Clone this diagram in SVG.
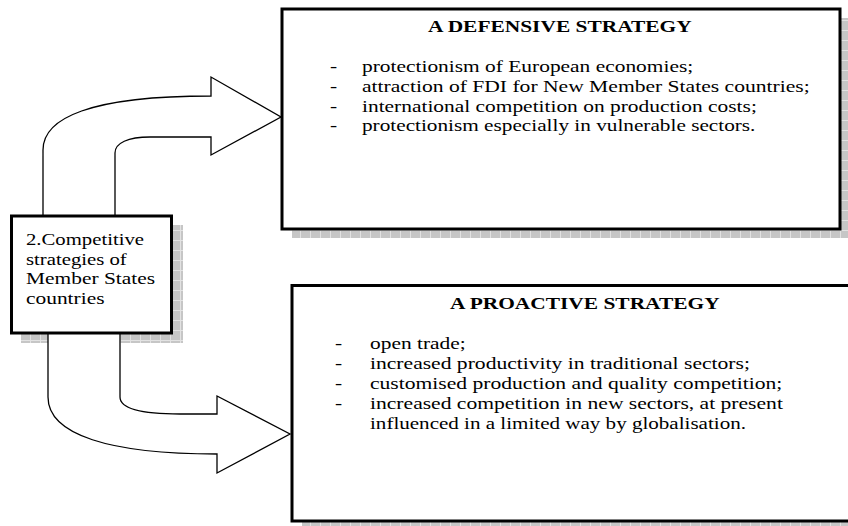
<svg xmlns="http://www.w3.org/2000/svg" width="848" height="526" viewBox="0 0 848 526">
<defs>
<pattern id="grid" width="10" height="10" patternUnits="userSpaceOnUse">
<rect width="10" height="10" fill="#c6c6c6"/>
<path d="M0 0.5H10M0.5 0V10" stroke="#e2e2e2" stroke-width="1" fill="none"/>
</pattern>
</defs>
<style>
.box{fill:#fff;stroke:#000;stroke-width:3}
.shadow{fill:url(#grid)}
.arrow{fill:#fff;stroke:#000;stroke-width:1.3;stroke-linejoin:miter}
</style>
<rect width="848" height="526" fill="#fff"/>
<g id="shadows">
<rect class="shadow" x="292" y="18" width="558" height="220"/>
<rect class="shadow" x="302" y="295" width="600" height="236"/>
<rect class="shadow" x="21" y="225" width="162" height="118"/>
</g>
<g id="connectors">
<path class="arrow" d="M43 216 L43 150 C43 118 90 96 211 96 L211 77 L281 117 L211 155 L211 137 L150 137 C128 137 115 143 115 153 L115 216"/>
<path class="arrow" d="M120 333 L120 397 C120 408 140 414 180 414 L217 414 L217 396 L290 434 L217 473 L217 454 C110 454 48 435 48 397 L48 333"/>
</g>
<g id="node-main" font-family="'Liberation Serif', serif" font-size="17">
<rect class="box" x="11.5" y="216" width="160" height="117"/>
<text transform="matrix(1.22 0 0 1 26 245)">2.Competitive</text>
<text transform="matrix(1.22 0 0 1 26 264.5)">strategies of</text>
<text transform="matrix(1.26 0 0 1 26 284)">Member States</text>
<text transform="matrix(1.26 0 0 1 26 303.5)">countries</text>
</g>
<g id="node-defensive" font-family="'Liberation Serif', serif" font-size="17">
<rect class="box" x="282" y="9" width="558" height="220"/>
<text font-weight="bold" transform="matrix(1.26 0 0 1 428 32)">A DEFENSIVE STRATEGY</text>
<text transform="matrix(1.26 0 0 1 330 72)">-</text>
<text transform="matrix(1.26 0 0 1 330 92)">-</text>
<text transform="matrix(1.26 0 0 1 330 111.5)">-</text>
<text transform="matrix(1.26 0 0 1 330 131)">-</text>
<text transform="matrix(1.26 0 0 1 362 72)">protectionism of European economies;</text>
<text transform="matrix(1.27 0 0 1 362 92)">attraction of FDI for New Member States countries;</text>
<text transform="matrix(1.26 0 0 1 362 111.5)">international competition on production costs;</text>
<text transform="matrix(1.25 0 0 1 362 131)">protectionism especially in vulnerable sectors.</text>
</g>
<g id="node-proactive" font-family="'Liberation Serif', serif" font-size="17">
<rect class="box" x="292" y="285.5" width="600" height="235.5"/>
<text font-weight="bold" transform="matrix(1.26 0 0 1 450 309)">A PROACTIVE STRATEGY</text>
<text transform="matrix(1.26 0 0 1 335 349)">-</text>
<text transform="matrix(1.26 0 0 1 335 369)">-</text>
<text transform="matrix(1.26 0 0 1 335 389)">-</text>
<text transform="matrix(1.26 0 0 1 335 409)">-</text>
<text transform="matrix(1.26 0 0 1 370 349)">open trade;</text>
<text transform="matrix(1.27 0 0 1 370 369)">increased productivity in traditional sectors;</text>
<text transform="matrix(1.27 0 0 1 370 389)">customised production and quality competition;</text>
<text transform="matrix(1.27 0 0 1 370 409)">increased competition in new sectors, at present</text>
<text transform="matrix(1.24 0 0 1 370 429)">influenced in a limited way by globalisation.</text>
</g>
</svg>
